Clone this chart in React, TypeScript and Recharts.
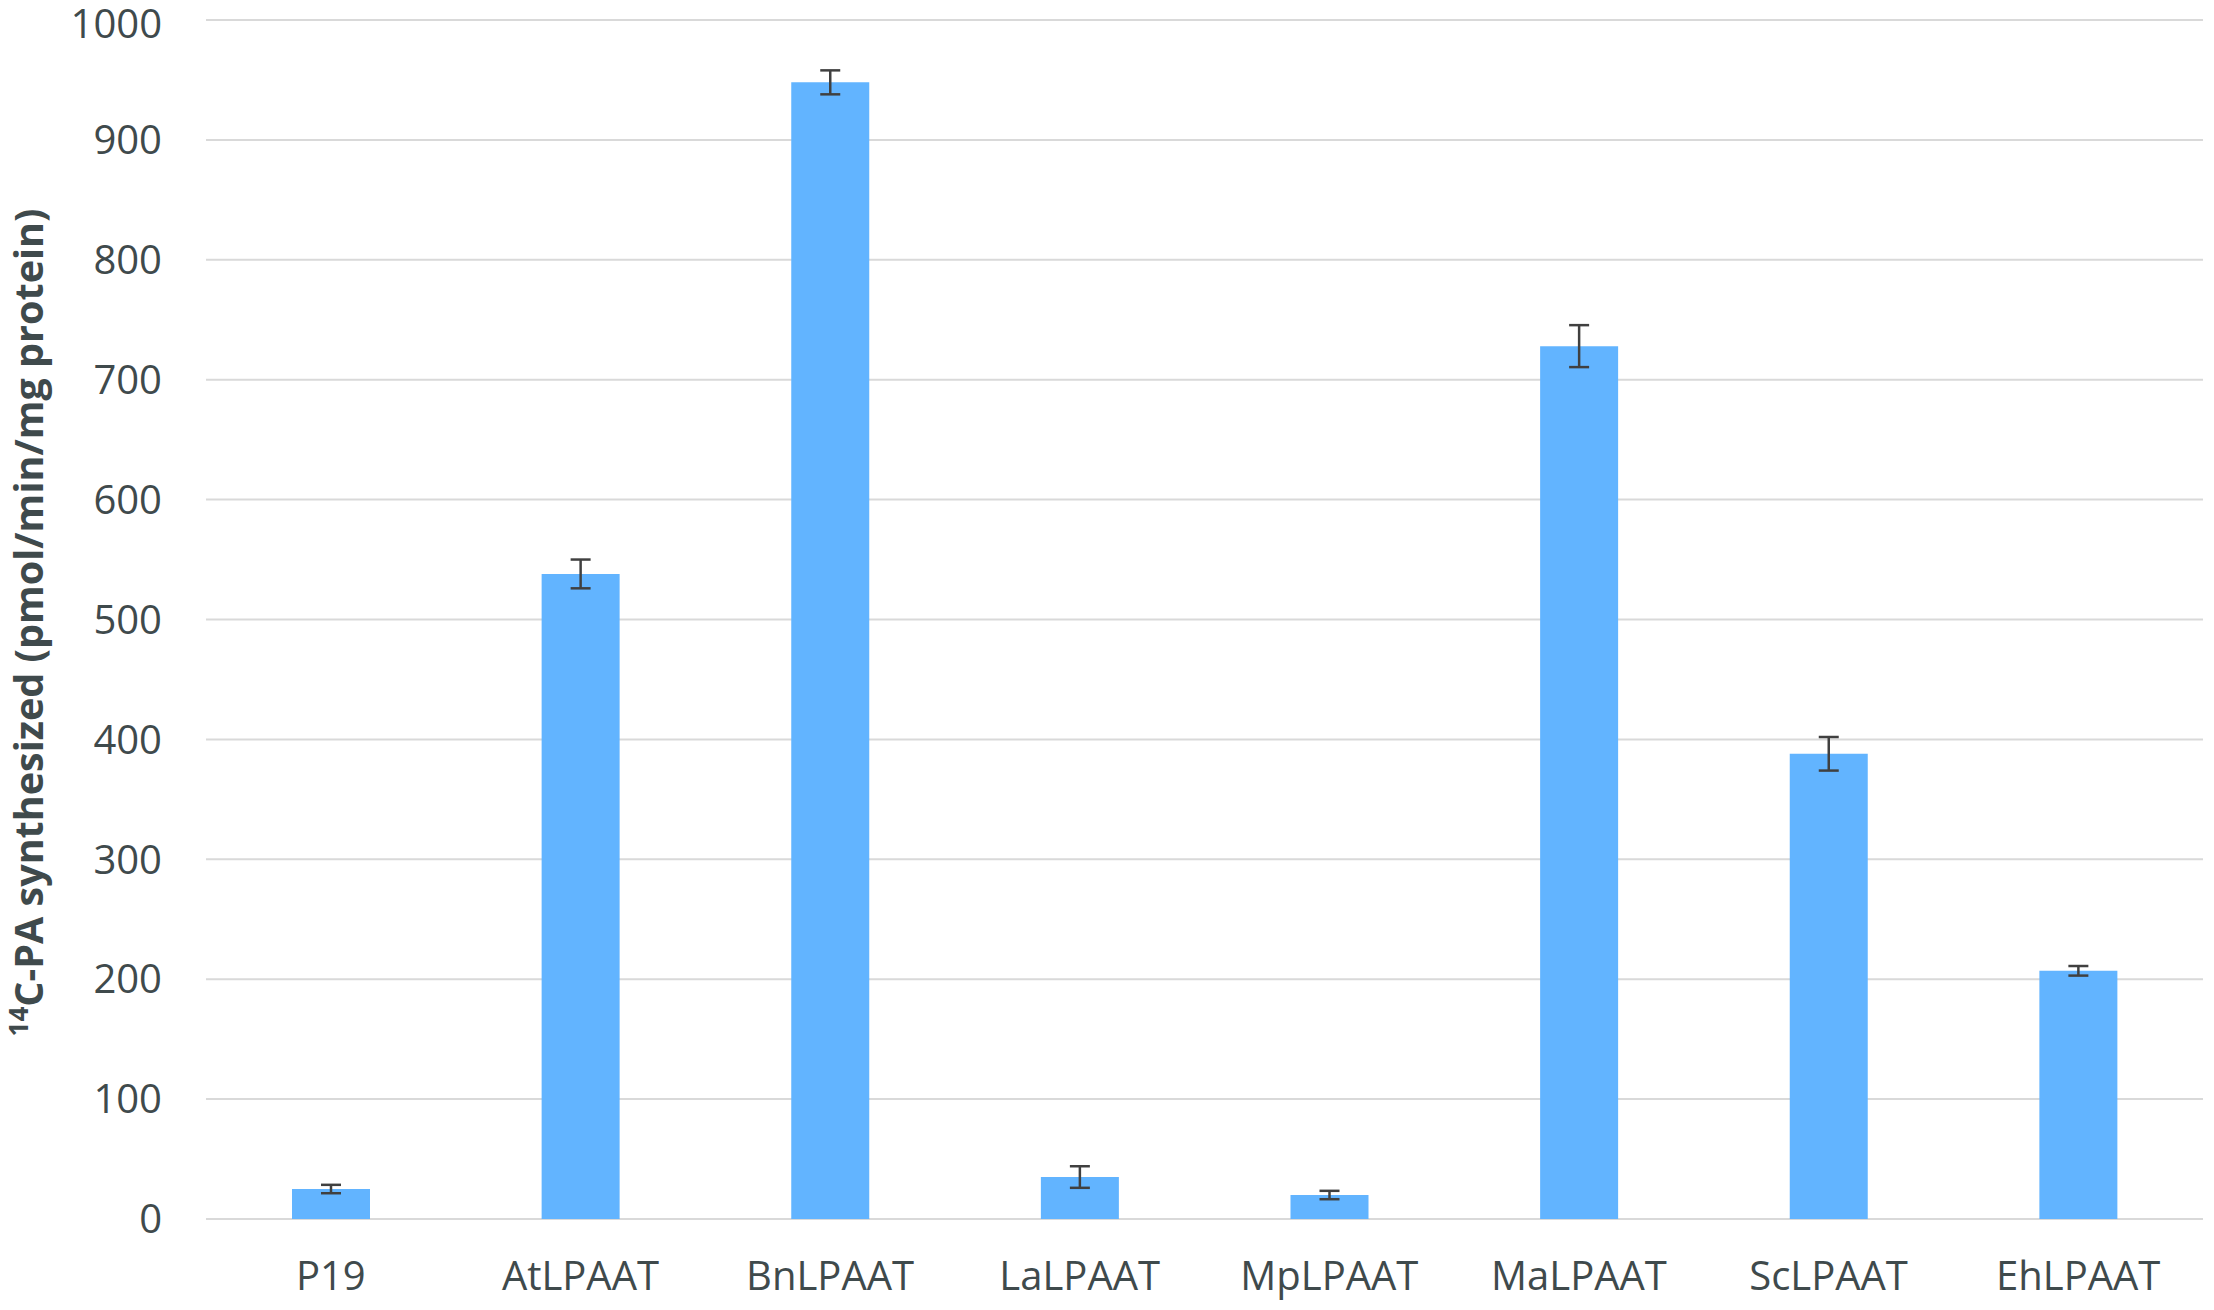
import React from 'react';
import { BarChart, Bar, XAxis, YAxis, CartesianGrid, ErrorBar } from 'recharts';

const categories = ['P19', 'AtLPAAT', 'BnLPAAT', 'LaLPAAT', 'MpLPAAT', 'MaLPAAT', 'ScLPAAT', 'EhLPAAT'];
const activity = [25, 538, 948, 35, 20, 728, 388, 207];
const errors = [3.5, 12, 10, 9, 3.5, 17.5, 14, 4];
const yTicks = [0, 100, 200, 300, 400, 500, 600, 700, 800, 900, 1000];

const data = categories.map((name, i) => ({ name, value: activity[i], err: errors[i] }));

const textColor = '#3f4a4c';
const font = '"Open Sans", sans-serif';

const YLabel = (props: any) => {
  const { viewBox } = props;
  const cx = 28;
  const cy = viewBox.y + viewBox.height / 2 + 3;
  return (
    <text
      x={cx}
      y={cy}
      transform={`rotate(-90, ${cx}, ${cy})`}
      textAnchor="middle"
      dominantBaseline="central"
      fill={textColor}
      fontFamily={font}
      fontWeight={700}
      fontSize={39.5}
    >
      <tspan fontSize={26} dy={-10}>14</tspan>
      <tspan dy={10}>C-PA synthesized (pmol/min/mg protein)</tspan>
    </text>
  );
};

const App: React.FC = () => {
  return (
    <div style={{ position: 'absolute', left: 0, top: 0, width: 2214, height: 1310, background: '#fff' }}>
      <BarChart
        width={2214}
        height={1310}
        data={data}
        margin={{ top: 20, right: 11, bottom: 0, left: 0 }}
      >
        <CartesianGrid vertical={false} stroke="#d9d9d9" strokeWidth={2} />
        <XAxis
          dataKey="name"
          height={91}
          axisLine={false}
          tickLine={false}
          tickSize={6}
          tickMargin={37}
          tick={{ fill: textColor, fontSize: 40, fontFamily: font }}
        />
        <YAxis
          width={206}
          domain={[0, 1000]}
          ticks={yTicks}
          axisLine={false}
          tickLine={false}
          tickSize={6}
          tickMargin={38}
          tick={{ fill: textColor, fontSize: 40, fontFamily: font }}
          label={<YLabel />}
        />
        <Bar dataKey="value" fill="#62b4ff" barSize={78} isAnimationActive={false}>
          <ErrorBar dataKey="err" width={10} stroke="#404040" strokeWidth={2.5} direction="y" />
        </Bar>
      </BarChart>
    </div>
  );
};

export default App;
